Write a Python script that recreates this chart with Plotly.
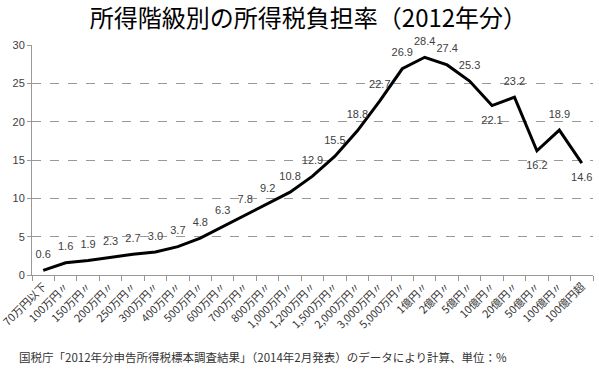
import plotly.graph_objects as go

categories = ["70万円以下", "100万円〃", "150万円〃", "200万円〃", "250万円〃", "300万円〃",
              "400万円〃", "500万円〃", "600万円〃", "700万円〃", "800万円〃", "1,000万円〃",
              "1,200万円〃", "1,500万円〃", "2,000万円〃", "3,000万円〃", "5,000万円〃",
              "1億円〃", "2億円〃", "5億円〃", "10億円〃", "20億円〃", "50億円〃",
              "100億円〃", "100億円超"]
rates = [0.6, 1.6, 1.9, 2.3, 2.7, 3.0, 3.7, 4.8, 6.3, 7.8, 9.2, 10.8, 12.9, 15.5, 18.8,
         22.7, 26.9, 28.4, 27.4, 25.3, 22.1, 23.2, 16.2, 18.9, 14.6]
below_labels = {"10億円〃", "50億円〃", "100億円超"}

positions = ["bottom center" if c in below_labels else "top center" for c in categories]
labels = [f"{v:.1f}" for v in rates]

FONT = "Noto Sans CJK JP, Noto Sans, sans-serif"

fig = go.Figure()
fig.add_trace(go.Scatter(
    x=categories, y=rates, mode="lines+markers+text",
    line=dict(color="black", width=3),
    marker=dict(size=14, color="rgba(0,0,0,0)"),
    text=labels, textposition=positions,
    textfont=dict(family="Liberation Sans, Noto Sans, sans-serif", size=11, color="#404040"),
    cliponaxis=False, showlegend=False, hoverinfo="skip",
))

fig.update_layout(
    width=599, height=375,
    margin=dict(l=32, r=6, t=45, b=100, autoexpand=False),
    paper_bgcolor="white", plot_bgcolor="white",
    font=dict(family=FONT, color="#404040"),
    title=dict(text="所得階級別の所得税負担率（2012年分）", x=0.515, xanchor="center",
               y=0.95, yanchor="middle",
               font=dict(family=FONT, size=24, color="black")),
    xaxis=dict(type="category", tickangle=-45, tickson="boundaries", automargin=False,
               ticks="outside", ticklen=5, tickcolor="#999999",
               showline=True, linecolor="#999999", linewidth=1,
               showgrid=False, tickfont=dict(size=10.8, color="#333333", family=FONT),
               range=[-0.5, len(categories) - 0.5]),
    yaxis=dict(range=[0, 30], dtick=5, showgrid=True, gridcolor="#999999", automargin=False,
               griddash="dash", gridwidth=1, zeroline=False,
               showline=True, linecolor="#999999", linewidth=1,
               ticks="outside", ticklen=4, tickcolor="#999999",
               tickfont=dict(size=11, color="#404040", family="Liberation Sans, sans-serif")),
    annotations=[dict(
        text="国税庁「2012年分申告所得税標本調査結果」（2014年2月発表）のデータにより計算、単位：%",
        xref="paper", yref="paper", x=-0.027, y=-0.357, xanchor="left", yanchor="middle",
        showarrow=False, font=dict(family=FONT, size=11.5, color="#333333"))],
)

fig.write_html("out.html", config={"displayModeBar": False},
               post_script="document.body.style.margin='0';")
